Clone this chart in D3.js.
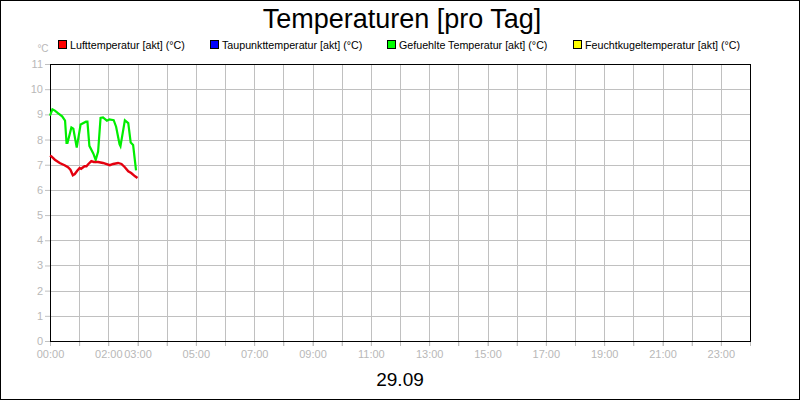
<!DOCTYPE html>
<html>
<head>
<meta charset="utf-8">
<script src="https://cdn.jsdelivr.net/npm/d3@7"></script>
<style>
  body { margin: 0; background: #fff; }
  svg { display: block; font-family: "Liberation Sans", Arial, sans-serif; }
</style>
</head>
<body>
<div id="chart"></div>
<script>
// minutes since midnight, temperature in °C
var luftTime = [0, 3, 10, 20, 30, 37, 42, 47, 51, 56, 61, 64, 71, 75, 79, 85, 90, 99, 109, 123, 130, 140, 147, 154, 161, 167, 175, 180];
var luftTemp = [7.36, 7.33, 7.2, 7.07, 6.98, 6.9, 6.8, 6.58, 6.63, 6.76, 6.87, 6.84, 6.94, 6.94, 7.03, 7.14, 7.11, 7.11, 7.07, 6.98, 7.03, 7.07, 7.03, 6.9, 6.74, 6.67, 6.54, 6.47];

var gefTime = [0, 5, 10, 17, 25, 31, 34, 36, 44, 48, 55, 63, 74, 77, 81, 89, 94, 99, 104, 109, 117, 122, 131, 136, 143, 145, 154, 161, 166, 171, 177];
var gefTemp = [8.95, 9.2, 9.15, 9.04, 8.92, 8.75, 7.87, 7.87, 8.48, 8.43, 7.68, 8.6, 8.71, 8.71, 7.75, 7.45, 7.19, 7.52, 8.86, 8.88, 8.75, 8.8, 8.77, 8.51, 7.82, 7.74, 8.76, 8.65, 7.88, 7.78, 6.78];

var legendNames = ["Lufttemperatur [akt] (°C)", "Taupunkttemperatur [akt] (°C)", "Gefuehlte Temperatur [akt] (°C)", "Feuchtkugeltemperatur [akt] (°C)"];
var legendColors = ["#ff0000", "#0000ff", "#00ff00", "#ffff00"];
var legendX = [58, 210, 387, 573];

var tickLabels = ["00:00", "02:00", "03:00", "05:00", "07:00", "09:00", "11:00", "13:00", "15:00", "17:00", "19:00", "21:00", "23:00"];
var yTicks = d3.range(0, 12);

var W = 800, H = 400;
var svg = d3.select("#chart").append("svg").attr("width", W).attr("height", H);

svg.append("rect").attr("x", 0.5).attr("y", 0.5).attr("width", W - 1).attr("height", H - 1)
  .attr("fill", "#fff").attr("stroke", "#000");

var x = d3.scaleLinear().domain([0, 1440]).range([50, 750]);
var y = d3.scaleLinear().domain([0, 11]).range([341, 64]);

// grid
var grid = svg.append("g").attr("stroke", "#c0c0c0").attr("shape-rendering", "crispEdges");
grid.selectAll(".v").data(d3.range(1, 24)).enter().append("line")
  .attr("x1", function(d) { return Math.round(x(d * 60)) + 0.5; })
  .attr("x2", function(d) { return Math.round(x(d * 60)) + 0.5; })
  .attr("y1", y(11)).attr("y2", y(0) + 5);
grid.selectAll(".h").data(yTicks.slice(1, 11)).enter().append("line")
  .attr("y1", function(d) { return Math.round(y(d)) + 0.5; })
  .attr("y2", function(d) { return Math.round(y(d)) + 0.5; })
  .attr("x1", x(0)).attr("x2", x(1440));

// axes
var xAxis = d3.axisBottom(x)
  .tickValues(d3.range(0, 25).map(function(h) { return h * 60; }))
  .tickSize(5)
  .tickFormat(function(d) {
    var s = d3.format("02d")(d / 60) + ":00";
    return tickLabels.indexOf(s) >= 0 ? s : "";
  });
var gx = svg.append("g").attr("transform", "translate(0," + y(0) + ")").call(xAxis);
gx.select(".domain").remove();
gx.selectAll("line").attr("stroke", "#c0c0c0");
gx.selectAll("text").attr("fill", "#b8b8b8").attr("font-size", 11).attr("font-family", "Liberation Sans, Arial").attr("dy", "0.9em").attr("y", 7);

var yAxis = d3.axisLeft(y).tickValues(yTicks).tickSize(5).tickFormat(d3.format("d"));
var gy = svg.append("g").attr("transform", "translate(" + x(0) + ",0)").call(yAxis);
gy.select(".domain").remove();
gy.selectAll("line").attr("stroke", "#c0c0c0");
gy.selectAll("text").attr("fill", "#b8b8b8").attr("font-size", 11).attr("font-family", "Liberation Sans, Arial").attr("x", -7);

// plot frame
svg.append("rect").attr("x", x(0) + 0.5).attr("y", y(11) + 0.5)
  .attr("width", x(1440) - x(0)).attr("height", y(0) - y(11))
  .attr("fill", "none").attr("stroke", "#000").attr("shape-rendering", "crispEdges");

// lines
var line = d3.line()
  .x(function(d) { return x(d[0]); })
  .y(function(d) { return y(d[1]); });

svg.append("path").datum(d3.zip(gefTime, gefTemp))
  .attr("d", line).attr("fill", "none").attr("stroke", "#00ee00").attr("stroke-width", 2.2);
svg.append("path").datum(d3.zip(luftTime, luftTemp))
  .attr("d", line).attr("fill", "none").attr("stroke", "#e4000f").attr("stroke-width", 2.4);

// title
svg.append("text").attr("x", 402).attr("y", 28).attr("text-anchor", "middle")
  .attr("font-size", 27).attr("fill", "#000").text("Temperaturen [pro Tag]");

// legend
var leg = svg.selectAll(".leg").data(legendNames).enter().append("g")
  .attr("transform", function(d, i) { return "translate(" + legendX[i] + ",40)"; });
leg.append("rect").attr("x", 0.5).attr("y", 0.5).attr("width", 8).attr("height", 8)
  .attr("fill", function(d, i) { return legendColors[i]; }).attr("stroke", "#000");
leg.append("text").attr("x", 12).attr("y", 8.5).attr("font-size", 10.7).attr("fill", "#000")
  .text(function(d) { return d; });

// unit label
svg.append("text").attr("x", 43).attr("y", 52).attr("text-anchor", "middle")
  .attr("font-size", 10).attr("fill", "#b8b8b8").text("°C");

// date
svg.append("text").attr("x", 400).attr("y", 386).attr("text-anchor", "middle")
  .attr("font-size", 19).attr("fill", "#000").text("29.09");
</script>
</body>
</html>
